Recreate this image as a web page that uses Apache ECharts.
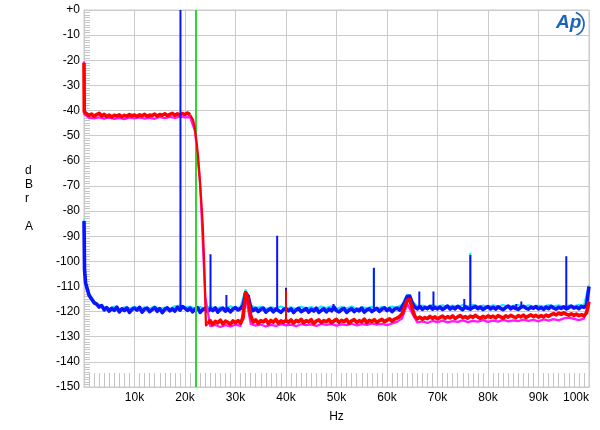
<!DOCTYPE html>
<html lang="en">
<head>
    <meta charset="UTF-8">
    <title>FFT spectrum</title>
    <style>
        html,body{margin:0;padding:0;background:#fff;}
        #chart{width:600px;height:430px;}
    </style>
    <script src="https://cdn.jsdelivr.net/npm/echarts@6.0.0/dist/echarts.min.js"></script>
</head>
<body>
<div id="chart"></div>
<script>
    // frequencies in kHz, levels in dBr
    let yTicks = [0, -10, -20, -30, -40, -50, -60, -70, -80, -90, -100, -110, -120, -130, -140, -150];
    let xTicks = [0, 10, 20, 30, 40, 50, 60, 70, 80, 90, 100];
    let markerFreq = 22.05;

    // blue channel: low-frequency head, then one level every 0.5 kHz from 0.5k
    let blueHead = [[0, -84], [0.1, -103], [0.3, -108.5]];
    let blueLevels = [
        -109, -113.5, -115, -116.5, -117, -118.2, -117.6, -119.3, -118.4, -119.8, -118.7, -119.5, -118.2, -120.1, -118.9, -119.6, -118.5, -120.3, -119.1, -118.6,
        -119.4, -118.3, -120.2, -119.0, -118.6, -120.0, -119.2, -118.4, -119.9, -118.8, -120.4, -119.1, -118.5, -119.7, -118.9, -119.8, -118.3, -119.4, -118.0, -118.7,
        -119.5, -118.6, -120.1, -119.0, -118.4, -120.3, -119.2, -118.7, -120.0, -118.9, -119.6, -118.5, -120.2, -119.1, -118.6, -119.8, -118.9, -120.1, -119.0, -118.4,
        -119.3, -118.8, -117.5, -112.5, -113.8, -118.2, -119.6, -118.7, -120.0, -119.1, -118.6, -120.2, -119.3, -118.8, -120.1, -119.0, -119.6, -120.3, -119.2, -118.9,
        -119.7, -118.9, -120.4, -119.3, -118.7, -120.0, -119.4, -118.8, -120.2, -119.1, -119.8, -118.6, -120.3, -119.5, -118.9, -120.1, -119.0, -119.7, -118.2, -119.6,
        -120.1, -119.2, -118.7, -120.3, -119.4, -118.8, -120.0, -119.1, -119.7, -118.6, -120.2, -119.3, -118.9, -120.0, -119.2, -118.7, -119.9, -119.0, -118.5, -119.6,
        -118.8, -120.0, -119.0, -118.6, -119.4, -118.0, -116.3, -114.0, -113.8, -116.5, -118.2, -118.9, -118.0, -119.1, -118.3, -118.8, -117.9, -119.0, -118.4, -118.9,
        -118.2, -119.1, -118.5, -117.8, -119.0, -118.3, -118.9, -117.9, -118.6, -119.2, -118.1, -118.7, -119.0, -118.4, -117.9, -118.8, -118.2, -119.1, -118.5, -118.0,
        -118.9, -118.3, -119.0, -118.1, -118.7, -119.2, -118.4, -117.8, -118.9, -118.2, -118.8, -119.1, -118.3, -117.9, -118.6, -119.0, -118.2, -118.7, -118.0, -118.9,
        -118.4, -119.1, -118.2, -118.8, -117.9, -118.6, -119.0, -118.3, -118.7, -118.1, -118.9, -118.4, -117.8, -118.6, -118.2, -118.8, -117.9, -118.3, -117.6, -110.0
    ];
    // discrete tones in the blue channel: [kHz, peak dBr]
    let blueSpikes = [[19.1, 0], [25.05, -97.2], [28.2, -113.4], [38.25, -89.8], [40.0, -110.5], [49.4, -117], [57.4, -102.6],
        [66.4, -112], [69.2, -112], [75.3, -115], [76.5, -97.5], [85.6, -117], [86.6, -116], [95.5, -98]];

    // cyan channel: head, then one level every 1 kHz from 1k
    let cyanHead = [[0, -83.5], [0.1, -104], [0.4, -110.5]];
    let cyanLevels = [
        -112.8, -115.9, -117.4, -118.2, -118.9, -118.0, -119.2, -118.3, -118.8, -118.1,
        -119.1, -118.3, -118.8, -118.0, -119.0, -118.4, -118.9, -117.9, -117.6, -118.5,
        -118.0, -119.0, -118.2, -118.8, -118.0, -119.0, -118.3, -118.7, -117.9, -118.9,
        -118.2, -111.4, -117.4, -118.6, -118.1, -119.0, -118.3, -118.7, -118.0, -118.8,
        -118.3, -119.0, -118.1, -118.7, -118.2, -119.1, -118.0, -118.6, -117.9, -118.9,
        -118.2, -118.8, -118.0, -119.0, -118.3, -118.6, -118.1, -118.9, -118.2, -118.7,
        -118.0, -118.4, -117.3, -113.3, -116.0, -118.0, -117.6, -118.3, -117.4, -118.0,
        -117.5, -118.2, -117.6, -118.1, -117.4, -117.9, -117.3, -118.0, -117.6, -118.2,
        -117.5, -118.0, -117.4, -118.1, -117.7, -117.4, -118.0, -117.5, -118.1, -117.6,
        -118.0, -117.4, -117.9, -117.5, -118.1, -117.6, -117.9, -117.3, -117.7, -109.5
    ];
    let cyanSpikes = [[76.5, -96.6], [57.4, -102.9]];

    // red channel: head, flat part every 0.5k from 0.5k, roll-off, floor every 0.5k from 24.5k
    let redHead = [[0, -21], [0.05, -40.5]];
    let redFlat = [
        -41.2, -42.0, -41.4, -42.3, -41.6, -41.1, -42.2, -41.5, -42.4, -41.8, -42.6, -41.9, -42.2, -41.7, -42.5, -41.9, -42.3, -41.6, -42.1, -41.8,
        -42.4, -41.7, -42.1, -41.5, -42.3, -41.8, -42.0, -41.4, -42.2, -41.6, -41.9, -41.3, -42.0, -41.5, -41.1, -41.9, -41.3, -41.8, -41.2, -41.6,
        -41.0, -41.7
    ];
    let redRolloff = [[21.3, -42.3], [21.6, -43.8], [21.9, -46.5], [22.1, -49.5], [22.35, -53.5], [22.6, -58.5], [22.85, -65],
        [23.07, -71.6], [23.3, -78.5], [23.5, -85], [23.75, -98], [23.95, -110], [24.05, -119], [24.15, -125.5]];
    let redFloor = [
        -124.8, -123.6, -125.1, -123.9, -124.5, -123.4, -124.9, -123.8, -124.3, -125.0, -123.7, -124.4,
        -123.6, -124.6, -122.5, -112.5, -115.0, -121.5, -124.2, -123.3, -124.7, -123.6, -124.1, -123.2, -124.8, -123.5, -124.2, -123.1, -124.6, -123.7, -124.3, -123.5,
        -124.2, -123.3, -124.6, -123.5, -124.0, -123.1, -124.5, -123.6, -124.1, -123.2, -124.7, -123.8, -123.3, -124.4, -123.6, -124.0, -123.2, -124.5, -123.7, -123.1,
        -124.3, -123.5, -124.0, -123.1, -124.6, -123.7, -123.2, -124.3, -123.6, -124.1, -123.0, -124.4, -123.5, -123.9, -123.2, -124.3, -123.6, -123.1, -124.0, -123.4,
        -122.9, -123.8, -123.0, -122.6, -122.0, -120.8, -118.0, -115.5, -115.2, -118.8, -121.8, -122.9, -122.2, -123.0, -122.4, -122.8, -121.9, -122.7, -122.1, -122.9,
        -122.3, -121.8, -122.7, -122.0, -122.5, -121.7, -122.8, -122.1, -121.6, -122.4, -122.0, -122.6, -121.8, -122.3, -121.5, -122.2, -122.7, -121.9, -122.4, -121.7,
        -122.3, -121.8, -122.5, -121.6, -122.1, -122.6, -121.7, -122.2, -121.5, -122.0, -122.4, -121.6, -122.1, -121.4, -122.3, -121.8, -121.3, -122.0, -121.5, -122.2,
        -121.6, -122.1, -121.4, -121.9, -121.2, -120.8, -121.3, -120.6, -121.1, -120.5, -121.0, -121.4, -120.9, -121.5, -121.0, -121.6, -121.2, -121.7, -120.5, -116.0
    ];
    let redSpikes = [[40.0, -111.5]];

    // magenta channel: head, then one level every 1 kHz from 1k
    let magentaHead = [[0, -20.5], [0.05, -41.5]];
    let magentaLevels = [
        -42.9, -43.1, -42.7, -43.2, -42.8, -43.3, -42.9, -43.4, -42.8, -43.1,
        -42.7, -43.2, -42.9, -43.3, -42.6, -43.0, -42.5, -42.9, -42.4, -42.7,
        -42.6, -48.3, -69.3, -114.0, -125.8, -125.3, -126.1, -125.4, -125.9, -125.2,
        -125.7, -113.6, -124.9, -125.6, -125.1, -125.9, -125.3, -125.7, -125.0, -125.5,
        -125.2, -125.8, -125.0, -125.4, -125.1, -125.7, -124.9, -125.3, -125.0, -125.6,
        -125.1, -125.4, -124.8, -125.5, -125.0, -125.3, -124.7, -125.2, -124.9, -125.4,
        -124.7, -124.1, -122.7, -117.0, -120.7, -124.3, -123.9, -124.5, -123.7, -124.2,
        -123.6, -124.3, -123.8, -124.1, -123.5, -124.2, -123.7, -124.0, -123.4, -124.1,
        -123.6, -124.0, -123.3, -123.9, -123.5, -123.8, -123.2, -123.7, -123.3, -123.9,
        -123.1, -123.6, -123.0, -123.5, -122.7, -122.4, -122.9, -123.4, -122.8, -117.7
    ];

    function seq(start, step, vals) {
        return vals.map(function (v, i) { return [+(start + i * step).toFixed(3), v]; });
    }

    // level of a trace just below a given frequency
    function levelAt(points, f) {
        let i = points.findIndex(function (p) { return p[0] > f; });
        if (i < 0) i = points.length;
        return points[Math.max(i - 1, 0)][1];
    }

    // separate thin vertical strokes for the tones, each from the trace floor up to the peak
    function spikeSegments(points, spikes) {
        let out = [];
        spikes.forEach(function (s) {
            out.push([s[0], levelAt(points, s[0])], [s[0], s[1]], [s[0], null]);
        });
        return out;
    }

    let blueNoise = blueHead.concat(seq(0.5, 0.5, blueLevels));
    let cyanNoise = cyanHead.concat(seq(1, 1, cyanLevels));
    let redPass = redHead.concat(seq(0.5, 0.5, redFlat));
    let redStop = seq(24.5, 0.5, redFloor);
    // thick noisy parts with a break, the slope drawn thinner on its own
    let redNoise = redPass.concat([[21.1, null]], redStop);
    let redSlope = [redPass[redPass.length - 1]].concat(redRolloff, [redStop[0]]);
    let magentaNoise = magentaHead.concat(seq(1, 1, magentaLevels));

    function trace(name, data, color, width, z) {
        return {
            name: name,
            type: 'line',
            data: data,
            showSymbol: false,
            symbol: 'none',
            connectNulls: false,
            z: z,
            lineStyle: {color: color, width: width, join: 'round'},
            animation: false
        };
    }

    let font = 'Liberation Sans, Arial, sans-serif';
    let gridColor = '#cbcbcb';

    let myChart = echarts.init(document.getElementById('chart'));
    let series = [
        trace('cyan', cyanNoise, '#19e6ff', 2.2, 2),
        trace('cyan tones', spikeSegments(cyanNoise, cyanSpikes), '#19e6ff', 2, 2),
        trace('blue', blueNoise, '#0a14ff', 3.6, 3),
        trace('magenta', magentaNoise, '#ff19ff', 2.2, 4),
        trace('red', redNoise, '#ff0000', 3.6, 5),
        trace('red slope', redSlope, '#ff0000', 2.2, 5),
        trace('blue tones', spikeSegments(blueNoise, blueSpikes), '#0a14ff', 2, 6),
        trace('red tones', spikeSegments(redStop, redSpikes), '#ff0000', 2, 7)
    ];
    series[2].markLine = {
        silent: true,
        symbol: 'none',
        label: {show: false},
        lineStyle: {color: '#2fd62f', width: 2, type: 'solid'},
        data: [{xAxis: markerFreq}]
    };

    let option = {
        animation: false,
        backgroundColor: '#ffffff',
        grid: {left: 84, right: 11, top: 10, bottom: 43, show: true, borderColor: gridColor, borderWidth: 1},
        xAxis: {
            type: 'value',
            min: xTicks[0],
            max: xTicks[xTicks.length - 1],
            interval: 10,
            name: 'Hz',
            nameLocation: 'middle',
            nameGap: 24,
            nameTextStyle: {color: '#000', fontSize: 12, fontFamily: font},
            axisLine: {show: true, onZero: false, lineStyle: {color: gridColor}},
            axisTick: {show: false, inside: true},
            minorTick: {show: true, splitNumber: 10, length: 14, lineStyle: {color: '#c4c4c4', width: 1}},
            axisLabel: {
                color: '#000', fontSize: 12, fontFamily: font, margin: 5,
                showMinLabel: false, alignMaxLabel: 'right',
                formatter: function (v) { return v + 'k'; }
            },
            splitLine: {show: true, lineStyle: {color: gridColor, width: 1}}
        },
        yAxis: {
            type: 'value',
            min: yTicks[yTicks.length - 1],
            max: yTicks[0],
            interval: 10,
            axisLine: {show: true, onZero: false, lineStyle: {color: gridColor}},
            axisTick: {show: false, inside: true},
            minorTick: {show: true, splitNumber: 10, length: 6, lineStyle: {color: '#c4c4c4', width: 1}},
            axisLabel: {
                color: '#000', fontSize: 12, fontFamily: font, margin: 4,
                formatter: function (v) { return v === 0 ? '+0' : String(v); }
            },
            splitLine: {show: true, lineStyle: {color: gridColor, width: 1}}
        },
        graphic: [
            {
                type: 'text', left: 25, top: 164,
                style: {text: 'd\nB\nr\n\nA', fill: '#000', fontSize: 12, fontFamily: font, lineHeight: 14, align: 'center'}
            },
            {
                type: 'text', left: 556, top: 13,
                style: {text: 'Ap', fill: '#1d63b8', fontSize: 19, fontStyle: 'italic', fontWeight: 'bold', fontFamily: font}
            },
            {
                type: 'arc', shape: {cx: 572, cy: 24, r: 12, startAngle: -1.25, endAngle: 1.25},
                style: {stroke: '#1d63b8', lineWidth: 1.6, fill: 'none'}
            }
        ],
        series: series
    };
    myChart.setOption(option);
</script>
</body>
</html>
